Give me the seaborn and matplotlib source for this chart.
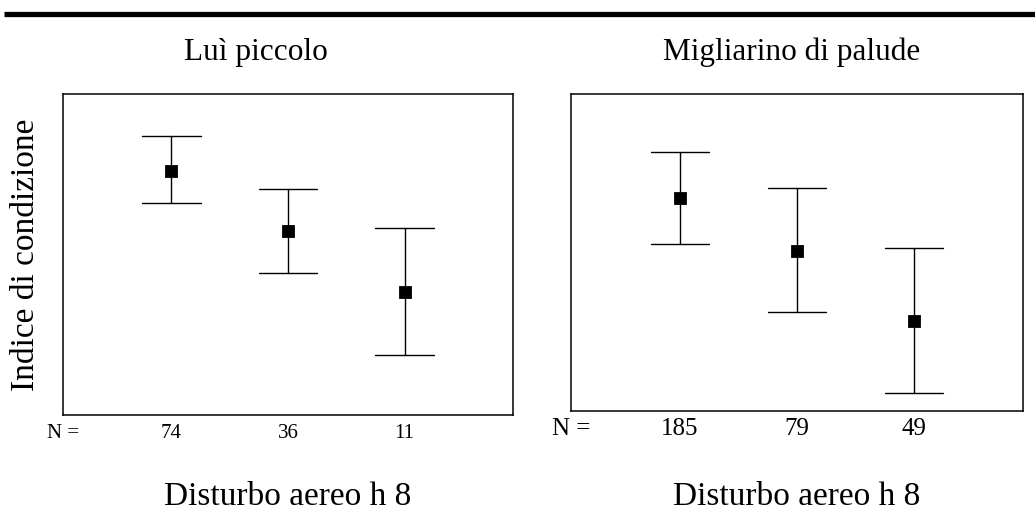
import matplotlib
matplotlib.use("Agg")
import matplotlib.pyplot as plt
import seaborn as sns
import pandas as pd
from matplotlib.lines import Line2D

# ---- data (index values on an arbitrary 0-1 scale) ----
categories = ["A", "B", "C"]
n_left = ["74", "36", "11"]
n_right = ["185", "79", "49"]

left_mean = [0.761, 0.574, 0.382]
left_upper = [0.869, 0.703, 0.582]
left_lower = [0.660, 0.442, 0.188]

right_mean = [0.671, 0.506, 0.285]
right_upper = [0.818, 0.703, 0.513]
right_lower = [0.528, 0.312, 0.056]

title_left = "Luì piccolo"
title_right = "Migliarino di palude"
xlabel = "Disturbo aereo h 8"
ylabel = "Indice di condizione"


def long_table(means, lows, highs):
    rows = []
    for c, m, lo, hi in zip(categories, means, lows, highs):
        for v in (lo, m, hi):
            rows.append({"cat": c, "val": v})
    return pd.DataFrame(rows)


sns.set_theme(style="white")
plt.rcParams["font.family"] = ["Liberation Serif", "DejaVu Serif"]
plt.rcParams["text.color"] = "black"
plt.rcParams["xtick.color"] = "black"
plt.rcParams["axes.labelcolor"] = "black"

W, H = 1035, 531
fig = plt.figure(figsize=(W / 100, H / 100), dpi=100)

ax1 = fig.add_axes([63 / W, (H - 415) / H, 450 / W, 321 / H])
ax2 = fig.add_axes([571 / W, (H - 411) / H, 452 / W, 317 / H])

for ax, (m, lo, hi), labels, fs, pad in (
    (ax1, (left_mean, left_lower, left_upper), n_left, 15, 6.5),
    (ax2, (right_mean, right_lower, right_upper), n_right, 18, 5.0),
):
    df = long_table(m, lo, hi)
    sns.pointplot(
        data=df, x="cat", y="val", order=categories,
        estimator="median", errorbar=("pi", 100),
        color="black", marker="s", markersize=7.5, linestyle="none",
        capsize=0.5, err_kws={"linewidth": 1.0}, ax=ax,
    )
    ax.set_xlim(-0.93, 2.93)
    ax.set_ylim(0, 1)
    ax.set_yticks([])
    ax.set_xticks([-0.93, 0, 1, 2])
    ax.set_xticklabels(["N ="] + labels, fontsize=fs, color="black")
    ax.tick_params(axis="x", length=0, pad=pad, colors="black")
    ax.set_xlabel("")
    ax.set_ylabel("")
    for s in ax.spines.values():
        s.set_visible(True)
        s.set_color("black")
        s.set_linewidth(1.1)
    ax.grid(False)

# titles
fig.text(256 / W, (H - 60) / H, title_left, ha="center", va="baseline", fontsize=22.5, color="black")
fig.text(792 / W, (H - 60) / H, title_right, ha="center", va="baseline", fontsize=22.5, color="black")

# x labels
fig.text(288 / W, (H - 505) / H, xlabel, ha="center", va="baseline", fontsize=24, color="black")
fig.text(797 / W, (H - 505) / H, xlabel, ha="center", va="baseline", fontsize=24, color="black")

# y label
fig.text(26 / W, (H - 255) / H, ylabel, ha="center", va="center", rotation=90, fontsize=24, color="black")

# thick rule at top
fig.add_artist(Line2D([4 / W, 1], [(H - 13.5) / H] * 2, color="black", linewidth=3.8,
                      solid_capstyle="butt", transform=fig.transFigure))

fig.savefig("out.png", dpi=100, facecolor="white")
